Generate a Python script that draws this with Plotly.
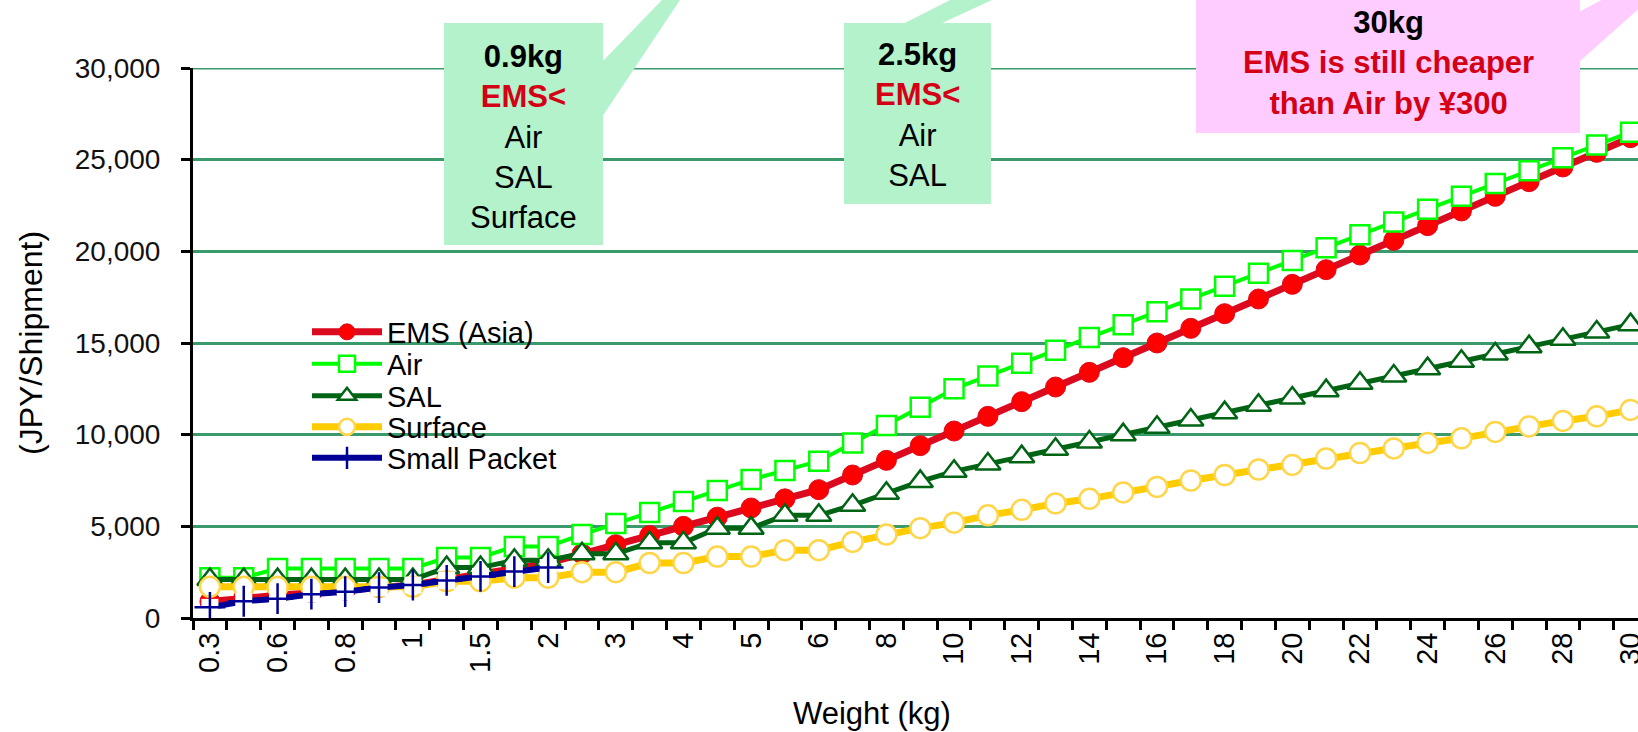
import plotly.graph_objects as go

# ---------------- data ----------------
weights = ["0.3", "0.5", "0.6", "0.7", "0.8", "0.9", "1", "1.25", "1.5", "1.75", "2",
           "2.5", "3", "3.5", "4", "4.5", "5", "5.5", "6"] + [str(k) for k in range(7, 31)]

ems = [900, 1100, 1240, 1380, 1520, 1660, 1800, 2100, 2400, 2700, 3000,
       3500, 4000, 4500, 5000, 5500, 6000, 6500, 7000,
       7800, 8600, 9400, 10200, 11000, 11800, 12600, 13400, 14200, 15000,
       15800, 16600, 17400, 18200, 19000, 19800, 20600, 21400, 22200, 23000,
       23800, 24600, 25400, 26200]

air = [2200, 2200, 2700, 2700, 2700, 2700, 2700, 3300, 3300, 3900, 3900,
       4550, 5150, 5750, 6350, 6950, 7550, 8050, 8550,
       9550, 10500, 11500, 12500, 13200, 13900, 14600, 15300, 16000, 16700,
       17400, 18100, 18800, 19500, 20200, 20900, 21600, 22300, 23000, 23700,
       24400, 25100, 25800, 26500]

sal = [2100, 2100, 2100, 2100, 2100, 2100, 2100, 2750, 2750, 3150, 3150,
       3500, 3500, 4100, 4100, 4900, 4900, 5600, 5600,
       6150, 6800, 7450, 8000, 8400, 8800, 9200, 9600, 10000, 10400,
       10800, 11200, 11600, 12000, 12400, 12800, 13200, 13600, 14000, 14400,
       14800, 15200, 15600, 16000]

surface = [1700, 1700, 1700, 1700, 1700, 1700, 1700, 2000, 2000, 2200, 2200,
           2500, 2500, 3000, 3000, 3350, 3350, 3700, 3700,
           4150, 4550, 4900, 5200, 5600, 5900, 6250, 6500, 6850, 7150,
           7500, 7800, 8100, 8350, 8700, 9000, 9250, 9550, 9800, 10150,
           10450, 10750, 11000, 11350]

small_packet = [580, 915, 1055, 1300, 1435, 1660, 1800, 2050, 2270, 2530, 2750]

tick_labels = [w if i % 2 == 0 else "" for i, w in enumerate(weights)]
y_ticks = [0, 5000, 10000, 15000, 20000, 25000, 30000]

# ---------------- geometry helpers (pixel -> paper) ----------------
W, H = 1638, 732
L, R, T, B = 193, 0, 68, 114
PW, PH = W - L - R, H - T - B


def px(x):
    return (x - L) / PW


def py(y):
    return (H - B - y) / PH


FONT = "Liberation Sans, Arial, sans-serif"

fig = go.Figure()

fig.add_trace(go.Scatter(
    x=weights, y=ems, name="EMS (Asia)", mode="lines+markers", legend="legend",
    line=dict(color="#dc0a1e", width=7),
    marker=dict(symbol="circle", size=20, color="#ff0000",
                line=dict(color="#dc0a1e", width=1)),
))
fig.add_trace(go.Scatter(
    x=weights, y=air, name="Air", mode="lines+markers", legend="legend2",
    line=dict(color="#00ff00", width=4),
    marker=dict(symbol="square", size=19, color="white",
                line=dict(color="#00ff00", width=2.5)),
))
fig.add_trace(go.Scatter(
    x=weights, y=sal, name="SAL", mode="lines+markers", legend="legend3",
    line=dict(color="#006414", width=5),
    marker=dict(symbol="triangle-up", size=22, color="white",
                line=dict(color="#006414", width=2.5)),
))
fig.add_trace(go.Scatter(
    x=weights, y=surface, name="Surface", mode="lines+markers", legend="legend4",
    line=dict(color="#ffcc00", width=7),
    marker=dict(symbol="circle", size=20, color="white",
                line=dict(color="#ffd54a", width=2.5)),
))
# Small packet: line with white marker backgrounds, then blue crosses
fig.add_trace(go.Scatter(
    x=weights[:len(small_packet)], y=small_packet, name="Small Packet",
    mode="lines+markers", showlegend=False,
    line=dict(color="#000096", width=6),
    marker=dict(symbol="square", size=17, color="white", line=dict(width=0)),
))
fig.add_trace(go.Scatter(
    x=weights[:len(small_packet)], y=small_packet, name="Small Packet",
    mode="markers", showlegend=False,
    marker=dict(symbol="cross-thin", size=22, color="#000096",
                line=dict(color="#000096", width=2.5)),
))
# legend entry for small packet
fig.add_trace(go.Scatter(
    x=[None], y=[None], name="Small Packet", mode="lines+markers", legend="legend5",
    line=dict(color="#000096", width=6),
    marker=dict(symbol="cross-thin", size=16, color="#000096",
                line=dict(color="#000096", width=2.5)),
))

# ---------------- annotation boxes ----------------
shapes = []
annots = []

# top gridline (at the range edge, not drawn by the axis itself)
shapes.append(dict(type="line", xref="paper", yref="y", x0=0, x1=1,
                   y0=y_ticks[-1], y1=y_ticks[-1],
                   line=dict(color="#3a9a6b", width=3), layer="below"))

GREEN = "#b3f2cb"
PINK = "#ffccff"
RED = "#d40016"


def rect(x0, y0, x1, y1, color):
    shapes.append(dict(type="rect", xref="paper", yref="paper",
                       x0=px(x0), x1=px(x1), y0=py(y1), y1=py(y0),
                       fillcolor=color, line=dict(width=0), layer="above"))


def poly(points, color):
    d = "M " + " L ".join(f"{px(x)},{py(y)}" for x, y in points) + " Z"
    shapes.append(dict(type="path", xref="paper", yref="paper", path=d,
                       fillcolor=color, line=dict(width=0), layer="above"))


rect(444, 23, 603, 245, GREEN)
poly([(602, 62), (602, 117), (680, 0), (662, 0)], GREEN)
annots.append(dict(
    xref="paper", yref="paper", x=px(523.5), y=py(137), showarrow=False,
    xanchor="center", yanchor="middle", align="center",
    font=dict(family=FONT, size=31, color="black"),
    text=f"<b>0.9kg</b><br><b><span style='color:{RED}'>EMS&lt;</span></b><br>Air<br>SAL<br>Surface"))

rect(844, 23, 991, 204, GREEN)
poly([(903, 24), (940, 24), (992, 0), (950, 0)], GREEN)
annots.append(dict(
    xref="paper", yref="paper", x=px(917.5), y=py(115), showarrow=False,
    xanchor="center", yanchor="middle", align="center",
    font=dict(family=FONT, size=31, color="black"),
    text=f"<b>2.5kg</b><br><b><span style='color:{RED}'>EMS&lt;</span></b><br>Air<br>SAL"))

rect(1196, -5, 1580, 133, PINK)
poly([(1579, 12), (1579, 62), (1660, -10), (1620, -10)], PINK)
annots.append(dict(
    xref="paper", yref="paper", x=px(1388), y=py(63), showarrow=False,
    xanchor="center", yanchor="middle", align="center",
    font=dict(family=FONT, size=31, color="black"),
    text=f"<b>30kg</b><br><b><span style='color:{RED}'>EMS is still cheaper<br>than Air by ¥300</span></b>"))

# x-axis title (offset left of the plot centre, as in the original)
annots.append(dict(
    xref="paper", yref="paper", x=px(872), y=py(713), showarrow=False,
    xanchor="center", yanchor="middle",
    font=dict(family=FONT, size=31, color="black"), text="Weight (kg)"))

# ---------------- layout ----------------
legend_common = dict(
    xanchor="left", yanchor="middle", x=px(307),
    bgcolor="rgba(0,0,0,0)", borderwidth=0,
    font=dict(family=FONT, size=29, color="black"),
    itemwidth=70, tracegroupgap=0,
)
rows = [332, 364, 396, 427, 458]

layout_legends = {}
for i, r in enumerate(rows):
    key = "legend" if i == 0 else f"legend{i + 1}"
    layout_legends[key] = dict(legend_common, y=py(r))

fig.update_layout(
    width=W, height=H,
    margin=dict(l=L, r=R, t=T, b=B, pad=0, autoexpand=False),
    paper_bgcolor="white", plot_bgcolor="white",
    font=dict(family=FONT, color="black"),
    showlegend=True,
    shapes=shapes, annotations=annots,
    xaxis=dict(
        type="category", categoryorder="array", categoryarray=weights,
        range=[-0.5, 42.22], automargin=False,
        tickmode="array", tickvals=weights, ticktext=tick_labels,
        tickson="boundaries",
        ticks="outside", ticklen=9, tickwidth=3, tickcolor="black",
        showline=True, linecolor="black", linewidth=3,
        showgrid=False, zeroline=False,
        tickangle=-90, tickfont=dict(family=FONT, size=29, color="black"),
    ),
    yaxis=dict(
        range=[0, 30000], tickmode="array", tickvals=y_ticks,
        tickformat=",", automargin=False,
        ticks="outside", ticklen=9, tickwidth=3, tickcolor="black",
        showline=True, linecolor="black", linewidth=3,
        showgrid=True, gridcolor="#3a9a6b", gridwidth=3,
        zeroline=False,
        tickfont=dict(family=FONT, size=28, color="#111"),
        ticklabelstandoff=15,
        title=dict(text="(JPY/Shipment)", font=dict(family=FONT, size=32, color="black"),
                   standoff=23),
    ),
    **layout_legends,
)

fig.write_html(
    "out.html",
    config={"displayModeBar": False},
    post_script="document.body.style.margin='0';document.body.style.overflow='hidden';",
)
